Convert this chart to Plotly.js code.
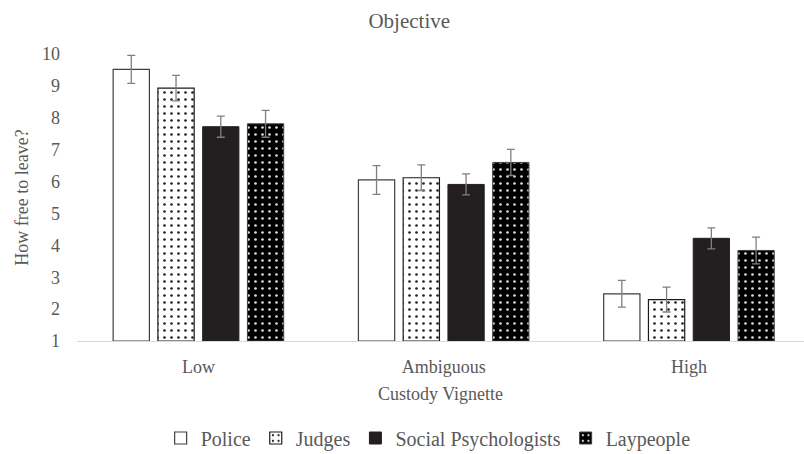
<!DOCTYPE html>
<html>
<head>
<meta charset="utf-8">
<script src="https://cdn.plot.ly/plotly-3.0.1.min.js"></script>
<style>html,body{margin:0;padding:0;background:#fff;}#chart{width:804px;height:454px;}</style>
</head>
<body>
<div id="chart"></div>
<script>
const categories = ["Low", "Ambiguous", "High"];
const police = [9.52, 6.05, 2.48];
const policeErr = [0.44, 0.45, 0.42];
const judges = [8.93, 6.12, 2.30];
const judgesErr = [0.40, 0.40, 0.39];
const socialPsych = [7.72, 5.91, 4.22];
const socialPsychErr = [0.33, 0.33, 0.33];
const laypeople = [7.81, 6.60, 3.84];
const laypeopleErr = [0.42, 0.41, 0.42];

const errStyle = (arr) => ({type: 'data', array: arr, visible: true, color: '#7f7f7f', thickness: 1.3, width: 4});
const base = 1;
const traces = [
  {name: 'Police', type: 'bar', x: categories, y: police.map(v => v - base), base: base,
   error_y: errStyle(policeErr),
   marker: {color: '#ffffff', line: {color: '#3f3f3f', width: 1.2}}},
  {name: 'Judges', type: 'bar', x: categories, y: judges.map(v => v - base), base: base,
   error_y: errStyle(judgesErr),
   marker: {color: '#ffffff', line: {color: '#1a1a1a', width: 1.2},
            pattern: {shape: '.', bgcolor: '#ffffff', fgcolor: '#222222', size: 7, solidity: 0.12}}},
  {name: 'Social Psychologists', type: 'bar', x: categories, y: socialPsych.map(v => v - base), base: base,
   error_y: errStyle(socialPsychErr),
   marker: {color: '#231f20', line: {color: '#231f20', width: 1}}},
  {name: 'Laypeople', type: 'bar', x: categories, y: laypeople.map(v => v - base), base: base,
   error_y: errStyle(laypeopleErr),
   marker: {color: '#000000', line: {color: '#3f3f3f', width: 1},
            pattern: {shape: '.', bgcolor: '#000000', fgcolor: '#dddddd', size: 7, solidity: 0.12}}}
];

const fontFam = 'Liberation Serif, Times New Roman, DejaVu Serif, serif';
const layout = {
  width: 804, height: 454,
  margin: {l: 77, r: 0, t: 54, b: 113, autoexpand: false},
  paper_bgcolor: '#ffffff', plot_bgcolor: '#ffffff',
  font: {family: fontFam, color: '#595959', size: 16},
  title: {text: 'Objective', font: {family: fontFam, size: 21, color: '#595959'}, x: 0.509, xanchor: 'center', y: 0.955, yanchor: 'middle'},
  barmode: 'group', bargap: 0.27, bargroupgap: 0.19,
  xaxis: {type: 'category', range: [-0.495, 2.469], showgrid: false, zeroline: false, automargin: false,
          showline: true, linecolor: '#d9d9d9', linewidth: 1, ticks: '',
          ticklabelstandoff: 9,
          tickfont: {family: fontFam, size: 18, color: '#595959'},
          title: {text: 'Custody Vignette', font: {family: fontFam, size: 18, color: '#595959'}, standoff: 11}},
  yaxis: {range: [1, 10], dtick: 1, tick0: 1, showgrid: false, zeroline: false, showline: false, ticks: '', automargin: false,
          ticklabelstandoff: 16,
          tickfont: {family: fontFam, size: 18, color: '#595959'},
          title: {text: 'How free to leave?', font: {family: fontFam, size: 18, color: '#595959'}, standoff: 8}},
  showlegend: true,
  legend: {orientation: 'h', x: 0.483, xanchor: 'center', y: -0.338, yanchor: 'middle',
           font: {family: fontFam, size: 20, color: '#595959'}, traceorder: 'normal'}
};
Plotly.newPlot('chart', traces, layout, {displayModeBar: false, staticPlot: true});
</script>
</body>
</html>
